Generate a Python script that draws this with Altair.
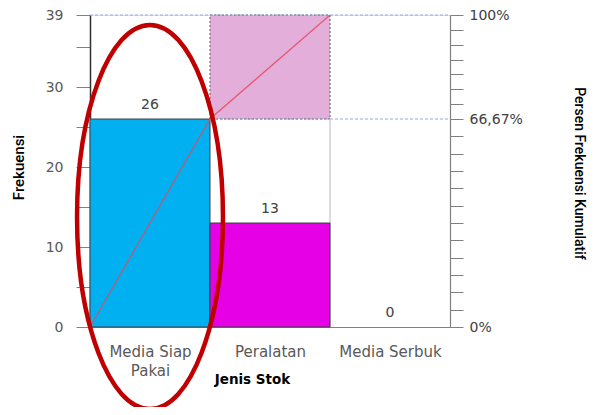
import altair as alt
import pandas as pd

# ---- data ----
categories = ["Media Siap Pakai", "Peralatan", "Media Serbuk"]
category_lines = [["Media Siap", "Pakai"], ["Peralatan"], ["Media Serbuk"]]
frequencies = [26, 13, 0]
bar_colors = ["#00B0F0", "#E600E6", "#FFFFFF"]
left_ticks = [0, 5, 10, 15, 20, 25, 30, 35, 39]
left_labelled = [0, 10, 20, 30, 39]
pct_labels = ["0%", "66,67%", "100%"]

# ---- derived ----
total = sum(frequencies)
cum = []
run = 0
for f in frequencies:
    run += f
    cum.append(run)

idx = list(range(len(categories)))
bars = pd.DataFrame({
    "cat": categories,
    "x0": idx,
    "x1": [i + 1 for i in idx],
    "xm": [i + 0.5 for i in idx],
    "freq": frequencies,
    "base": [0] * len(categories),
    "color": bar_colors,
})

line_x = [0] + [i + 1 for i, f in zip(idx, frequencies) if f > 0]
line_y = [0] + [c for c, f in zip(cum, frequencies) if f > 0]
line_df = pd.DataFrame({"x": line_x, "y": line_y})

# shaded cumulative block over the 2nd category
shade_df = pd.DataFrame({"x0": [1], "x1": [2], "y0": [cum[0]], "y1": [cum[1]]})
# reference dashed levels
dash_df = pd.DataFrame({"x0": [0, 1], "x1": [len(categories)] * 2, "y": [total, cum[0]]})
# light separator line
sep_df = pd.DataFrame({"x": [2], "y0": [0], "y1": [cum[0]]})
# annotation ellipse around first category
ellipse_df = pd.DataFrame({"x": [0.5], "y": [13.75]})

pct_positions = [0, cum[0], total]
right_ticks = [cum[0] * i / 12 for i in range(13)] + [cum[0] + (total - cum[0]) * j / 7 for j in range(1, 8)]

# ---- scales / axes ----
x_scale = alt.Scale(domain=[0, len(categories)], nice=False, zero=False)
y_scale = alt.Scale(domain=[0, total], nice=False)

x_label_expr = " : ".join(
    f"datum.value < {i + 1} ? {repr(lines) if len(lines) > 1 else repr(lines[0])}" for i, lines in enumerate(category_lines[:-1])
) + f" : {repr(category_lines[-1][0])}"

x_axis = alt.Axis(
    values=[i + 0.5 for i in idx],
    labelExpr=x_label_expr,
    ticks=False, tickSize=0, grid=False,
    labelPadding=17, labelFont="DejaVu Sans", labelFontSize=15, labelColor="#595959",
    labelLineHeight=19,
    domainColor="#808080", domainWidth=1,
    titleFont="DejaVu Sans", titleFontSize=13.5, titleFontWeight="bold", titleColor="#000000",
    titleX=162, titleY=56, titleAlign="center", titleBaseline="alphabetic",
)

def X(field):
    return alt.X(field, type="quantitative", scale=x_scale, axis=x_axis, title="Jenis Stok")

left_expr = " || ".join(f"datum.value == {v}" for v in left_labelled)
left_axis = alt.Axis(
    orient="left", values=left_ticks,
    labelExpr=f"({left_expr}) ? datum.value : ''",
    grid=False, tickSize=14, tickColor="#808080", labelPadding=13,
    labelFont="DejaVu Sans", labelFontSize=14, labelColor="#595959",
    domainColor="#303030", domainWidth=1.5,
    title="Frekuensi", titleFont="Roboto", titleFontSize=15, titleFontWeight=500,
    titleColor="#000000", titleAngle=270, titleX=-72, titleY=152,
    titleAlign="center", titleBaseline="middle",
)

right_expr = " : ".join(
    f"abs(datum.value - {p}) < 0.01 ? '{lab}'" for p, lab in zip(pct_positions, pct_labels)
) + " : ''"
right_axis = alt.Axis(
    orient="right", values=right_ticks, labelExpr=right_expr,
    grid=False, tickSize=13, tickColor="#808080", labelPadding=6,
    labelFont="DejaVu Sans", labelFontSize=14, labelColor="#404040",
    domainColor="#808080", domainWidth=1.2,
    title="Persen Frekuensi Kumulatif", titleFont="Roboto", titleFontSize=14,
    titleFontWeight=500, titleColor="#000000", titleAngle=90, titleX=128, titleY=158,
    titleAlign="center", titleBaseline="middle",
)

# ---- layers ----
shade = alt.Chart(shade_df).mark_rect(
    fill="#E4AEDB", stroke="#595959", strokeDash=[2, 2], strokeWidth=1
).encode(
    x=X("x0"), x2="x1",
    y=alt.Y("y0:Q", scale=y_scale, axis=None), y2="y1",
)

sep = alt.Chart(sep_df).mark_rule(color="#D0D0D0", strokeWidth=1.5).encode(
    x=X("x"),
    y=alt.Y("y0:Q", scale=y_scale, axis=None), y2="y1",
)

bar_layer = alt.Chart(bars).mark_rect(stroke="#404040", strokeWidth=1).encode(
    x=X("x0"), x2="x1",
    y=alt.Y("freq:Q", scale=y_scale, axis=left_axis), y2="base",
    fill=alt.Fill("color:N", scale=None),
    strokeOpacity=alt.condition("datum.freq > 0", alt.value(1), alt.value(0)),
)

dashes = alt.Chart(dash_df).mark_rule(color="#8FAADC", strokeDash=[3, 2], strokeWidth=1).encode(
    x=X("x0"), x2="x1",
    y=alt.Y("y:Q", scale=y_scale, axis=None),
)

text = alt.Chart(bars).mark_text(
    font="DejaVu Sans", fontSize=14, color="#404040", baseline="bottom", dy=-7
).encode(
    x=X("xm"),
    y=alt.Y("freq:Q", scale=y_scale, axis=None),
    text="freq:Q",
)

line = alt.Chart(line_df).mark_line(color="#E8475A", strokeWidth=1.2, opacity=0.85).encode(
    x=X("x"),
    y=alt.Y("y:Q", scale=y_scale, axis=right_axis),
)

ellipse_path = "M0,-1 A0.38,1 0 1,1 0,1 A0.38,1 0 1,1 0,-1 Z"
ellipse = alt.Chart(ellipse_df).mark_point(
    shape=ellipse_path, filled=False, color="#C00000", strokeWidth=4.5, opacity=1, size=147456
).encode(
    x=X("x"),
    y=alt.Y("y:Q", scale=y_scale, axis=None),
)

chart = alt.layer(shade, sep, bar_layer, dashes, text, line, ellipse).resolve_scale(
    y="independent"
).properties(
    width=360, height=312,
    autosize=alt.AutoSizeParams(type="none"),
    padding={"left": 82, "top": 7, "right": 139, "bottom": 80},
).configure_view(stroke=None).configure(background="#FFFFFF")

chart.save("out.html", embed_options={"renderer": "svg", "actions": False})
